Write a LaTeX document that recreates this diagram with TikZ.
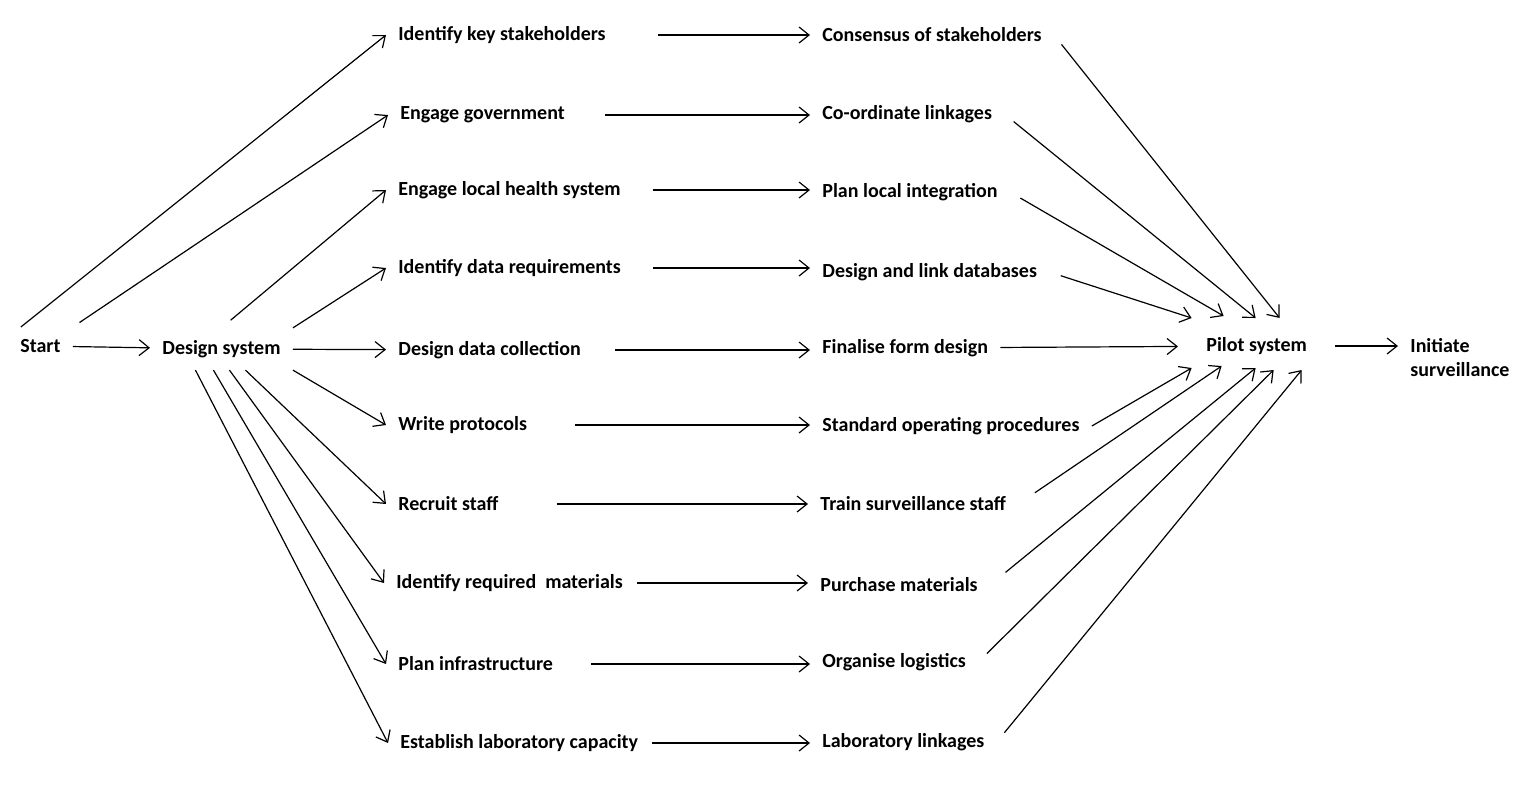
\documentclass[tikz,border=0pt]{standalone}
\usepackage{fontspec}
\setmainfont{Carlito}
\usetikzlibrary{arrows.meta}
\tikzset{
  task/.style={anchor=west,inner sep=6,font=\fontsize{10}{12}\selectfont\bfseries},
  flow/.style={-{Straight Barb[length=5pt,width=8pt]},line width=0.6pt},
}
\begin{document}
\begin{tikzpicture}[x=0.5pt,y=-0.5pt]
  \useasboundingbox (0,0) rectangle (1533,800);

  \node [task] (start) at (8,346) {Start};
  \node [task] (design) at (150,349) {Design system};

  % first column
  \node [task] (key) at (386,35) {Identify key stakeholders};
  \node [task] (gov) at (388,115) {Engage government};
  \node [task] (local) at (386,190) {Engage local health system};
  \node [task] (data) at (386,268) {Identify data requirements};
  \node [task] (coll) at (386,350) {Design data collection};
  \node [task] (prot) at (386,425) {Write protocols};
  \node [task] (recr) at (386,504) {Recruit staff};
  \node [task] (mat) at (384,583) {Identify required\ \ materials};
  \node [task] (infra) at (386,664) {Plan infrastructure};
  \node [task] (lab) at (388,743) {Establish laboratory capacity};

  % second column
  \node [task] (cons) at (810,35) {Consensus of stakeholders};
  \node [task] (link) at (810,114) {Co-ordinate linkages};
  \node [task] (integ) at (810,192) {Plan local integration};
  \node [task] (db) at (810,272) {Design and link databases};
  \node [task] (form) at (810,348) {Finalise form design};
  \node [task] (sop) at (810,426) {Standard operating procedures};
  \node [task] (train) at (808,504) {Train surveillance staff};
  \node [task] (buy) at (808,585) {Purchase materials};
  \node [task] (logi) at (810,662) {Organise logistics};
  \node [task] (lablink) at (810,742) {Laboratory linkages};

  \node [task,inner sep=14] (pilot) at (1178,346) {Pilot system};
  \node [task,align=left] (init) at (1398,358) {Initiate\\surveillance};

  \draw [flow] (start) -- (design);
  \draw [flow] ([xshift=-26]start.north east) -- (key.west);
  \draw [flow,shorten <=4pt] (start.north east) -- (gov.west);
  \draw [flow,shorten <=6pt] (design.north) -- (local.west);
  \draw [flow] (design.north east) -- (data.west);
  \draw [flow] (design) -- (coll);
  \draw [flow] (design.south east) -- (prot.west);
  \draw [flow] (design.south) ++(24,0) coordinate (d1) (d1) -- (recr.west);
  \draw [flow] (design.south) ++(8,0) coordinate (d2) (d2) -- (mat.west);
  \draw [flow] (design.south) ++(-8,0) coordinate (d3) (d3) -- (infra.west);
  \draw [flow] (design.south) ++(-26,0) coordinate (d4) (d4) -- (lab.west);

  \foreach \a/\b/\g in {key/cons/40,gov/link/28,local/integ/20,data/db/20,
      coll/form/22,prot/sop/36,recr/train/46,mat/buy/2,infra/logi/26,lab/lablink/2}
    \draw [flow,shorten <=\g*0.5pt] (\a.east) -- (\a.east -| \b.west);

  \draw [flow,shorten <=6pt] (cons.east) -- ([shift={(23,-28)}]pilot.center);
  \draw [flow,shorten <=6pt] (link.east) -- ([shift={(-1,-28)}]pilot.center);
  \draw [flow,shorten <=6pt] (integ.east) -- ([shift={(-33,-30)}]pilot.center);
  \draw [flow,shorten <=6pt] (db.east) -- ([shift={(-65,-28)}]pilot.center);
  \draw [flow] (form) -- (pilot);
  \draw [flow] (sop.east) -- ([shift={(-65,22)}]pilot.center);
  \draw [flow,shorten <=10pt] (train.east) -- ([shift={(-35,20)}]pilot.center);
  \draw [flow,shorten <=10pt] (buy.east) -- ([shift={(-1,22)}]pilot.center);
  \draw [flow,shorten <=6pt] (logi.east) -- ([shift={(17,24)}]pilot.center);
  \draw [flow,shorten <=6pt] (lablink.east) -- ([shift={(45,24)}]pilot.center);
  \draw [flow] (pilot) -- (pilot -| init.west);
\end{tikzpicture}
\end{document}
